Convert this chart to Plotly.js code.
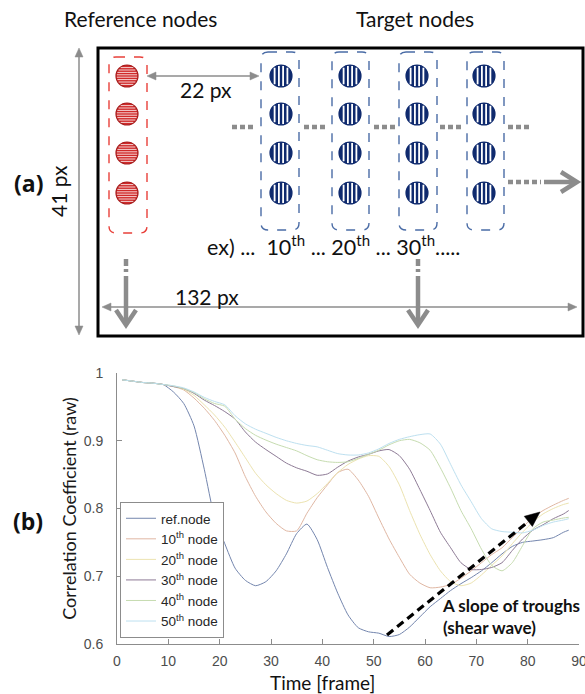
<!DOCTYPE html>
<html><head><meta charset="utf-8">
<script src="https://cdn.plot.ly/plotly-3.0.1.min.js"></script>
<style>html,body{margin:0;padding:0;background:#fff;overflow:hidden}#chart{width:585px;height:694px}</style>
</head><body><div id="chart"></div>
<script>
// ---------------- data ----------------
const frames = [1,3,5,7,9,11,13,15,17,19,21,23,25,27,29,31,33,35,37,39,41,43,45,47,49,51,53,55,57,59,61,63,65,67,69,71,73,75,77,79,81,83,85,87,88];
const refNode = [.990,.988,.986,.985,.983,.972,.955,.922,.858,.787,.748,.712,.694,.686,.692,.708,.733,.763,.777,.754,.713,.675,.643,.624,.618,.616,.611,.614,.625,.640,.655,.667,.679,.689,.698,.708,.720,.733,.744,.750,.752,.754,.757,.765,.768];
const node10 = [.990,.988,.986,.985,.983,.980,.975,.963,.948,.930,.908,.882,.847,.818,.795,.778,.767,.767,.793,.816,.835,.853,.858,.842,.818,.786,.755,.728,.703,.690,.683,.684,.688,.697,.708,.720,.732,.742,.757,.772,.787,.797,.805,.812,.815];
const node20 = [.990,.988,.986,.985,.983,.980,.976,.967,.953,.938,.920,.898,.875,.852,.835,.822,.812,.808,.811,.822,.837,.853,.865,.873,.878,.877,.862,.835,.797,.762,.732,.708,.692,.686,.690,.702,.716,.730,.748,.765,.780,.792,.800,.806,.808];
const node30 = [.990,.988,.986,.985,.983,.980,.977,.970,.960,.952,.943,.932,.913,.898,.887,.877,.867,.860,.855,.849,.851,.861,.870,.876,.880,.885,.887,.878,.858,.828,.797,.765,.742,.720,.710,.710,.713,.720,.738,.755,.768,.776,.785,.792,.797];
const node40 = [.990,.988,.986,.985,.983,.981,.977,.971,.962,.955,.951,.932,.918,.908,.901,.895,.890,.885,.878,.872,.869,.868,.869,.874,.880,.886,.894,.900,.902,.897,.886,.860,.830,.797,.770,.740,.716,.708,.720,.745,.770,.780,.783,.786,.787];
const node50 = [.990,.988,.986,.985,.983,.981,.978,.972,.964,.958,.953,.937,.925,.917,.911,.905,.900,.896,.893,.891,.886,.881,.879,.879,.882,.888,.896,.902,.906,.909,.910,.895,.865,.835,.810,.785,.770,.766,.765,.764,.768,.775,.780,.783,.785];
const seriesNames = ['ref.node','10<sup>th</sup> node','20<sup>th</sup> node','30<sup>th</sup> node','40<sup>th</sup> node','50<sup>th</sup> node'];
const seriesValues = [refNode,node10,node20,node30,node40,node50];
const seriesColors = ['#7486ae','#e0b7a3','#ece3b0','#8d7a95','#c6dcb0','#bde0f0'];
const xTicks = [0,10,20,30,40,50,60,70,80,90];
const yTicks = [0.6,0.7,0.8,0.9,1];
const yTickLabels = ['0.6','0.7','0.8','0.9','1'];

// ---------------- layout helpers (pixel -> paper) ----------------
const L=117,R=579,T=373,B=644;
const X = p => (p-L)/(R-L);
const Y = p => (B-p)/(B-T);
const pt = (x,y) => X(x)+','+Y(y);
const GRAY='#8c8c8c', NAVY='#0f2a6e', RED='#d02a2a';
const TXT='Lato, "Open Sans", sans-serif';
const shapes=[];
const ann=[];
function line(x0,y0,x1,y1,color,width,dash){
  shapes.push({type:'line',xref:'paper',yref:'paper',x0:X(x0),y0:Y(y0),x1:X(x1),y1:Y(y1),line:{color:color,width:width,dash:dash||'solid'}});
}
function path(d,color,width,fill,dash){
  shapes.push({type:'path',xref:'paper',yref:'paper',path:d,line:{color:color,width:width,dash:dash||'solid'},fillcolor:fill||'rgba(0,0,0,0)'});
}
function rrect(x0,y0,x1,y1,r){
  return 'M'+pt(x0+r,y0)+' L'+pt(x1-r,y0)+' Q'+pt(x1,y0)+' '+pt(x1,y0+r)+
    ' L'+pt(x1,y1-r)+' Q'+pt(x1,y1)+' '+pt(x1-r,y1)+
    ' L'+pt(x0+r,y1)+' Q'+pt(x0,y1)+' '+pt(x0,y1-r)+
    ' L'+pt(x0,y0+r)+' Q'+pt(x0,y0)+' '+pt(x0+r,y0)+' Z';
}
function tri(tx,ty,dx,dy,len,hw,color){
  const n=Math.hypot(dx,dy); dx/=n; dy/=n;
  const bx=tx-dx*len, by=ty-dy*len, px=-dy, py=dx;
  path('M'+pt(tx,ty)+' L'+pt(bx+px*hw,by+py*hw)+' L'+pt(bx-px*hw,by-py*hw)+' Z',color,0.5,color);
}
function circleStriped(cx,cy,r,fill,edge,vertical,offs,sw){
  shapes.push({type:'circle',xref:'paper',yref:'paper',x0:X(cx-r),x1:X(cx+r),y0:Y(cy+r),y1:Y(cy-r),fillcolor:fill,line:{color:edge,width:1.2}});
  let d='';
  offs.forEach(o=>{
    const h=Math.sqrt(Math.max(r*r-o*o,0))-0.8;
    if(vertical) d+='M'+pt(cx+o,cy-h)+' L'+pt(cx+o,cy+h)+' ';
    else d+='M'+pt(cx-h,cy+o)+' L'+pt(cx+h,cy+o)+' ';
  });
  path(d.trim(),'#ffffff',sw);
}
function text(x,y,t,size,opts){
  opts=opts||{};
  ann.push(Object.assign({xref:'paper',yref:'paper',x:X(x),y:Y(y),text:t,showarrow:false,
    xanchor:'center',yanchor:'middle',font:{family:TXT,size:size,color:'#111111'}},opts));
}

// ---------------- panel (a) diagram ----------------
shapes.push({type:'rect',xref:'paper',yref:'paper',x0:X(98),x1:X(583),y0:Y(48),y1:Y(336),line:{color:'#000',width:3}});
path(rrect(109,57,147,233,7),'#e8403a',1.4,null,'dash');
const rowY=[76,114,153,193];
rowY.forEach(cy=>circleStriped(127,cy,11,RED,'#a81c1c',false,[-8.4,-6,-3.6,-1.2,1.2,3.6,6,8.4],0.8));
const colX=[[261,299,281],[332,369,350],[399,437,417],[467,504,484]];
colX.forEach(c=>{
  path(rrect(c[0],52,c[1],230,7),'#4a6ca6',1.4,null,'dash');
  rowY.forEach(cy=>circleStriped(c[2],cy,11,NAVY,NAVY,true,[-6.4,-2.1,2.1,6.4],1.8));
});
[[232,253],[304,327],[374,397],[440,462],[508,530]].forEach(s=>line(s[0],127,s[1],127,GRAY,4.5,'5px,3px'));
line(508,182,541,182,GRAY,4.5,'5px,3px');
line(544,182,574,182,GRAY,4.5);
path('M'+pt(561,172)+' L'+pt(577,182)+' L'+pt(561,192),GRAY,4.5);
[126,418].forEach(x=>{
  line(x,259,x,266,GRAY,4.5);
  line(x,269,x,272,GRAY,4.5);
  line(x,276,x,322,GRAY,4.5);
  path('M'+pt(x-10,310)+' L'+pt(x,325)+' L'+pt(x+10,310),GRAY,4.5);
});
line(79,55,79,328,GRAY,1.5); tri(79,48,0,-1,9,4,GRAY); tri(79,335,0,1,9,4,GRAY);
line(154,76,252,76,GRAY,1.5); tri(147,76,-1,0,9,4,GRAY); tri(259,76,1,0,9,4,GRAY);
line(109,307,570,307,GRAY,1.5); tri(102,307,-1,0,9,4,GRAY); tri(577,307,1,0,9,4,GRAY);
text(140,18,'Reference nodes',21);
text(415,18,'Target nodes',21);
text(206,89,'22 px',21);
text(207,296,'132 px',21);
text(58,191,'41 px',21,{textangle:-90});
text(205,245,'ex) ...  10<sup>th</sup> ... 20<sup>th</sup> ... 30<sup>th</sup>.....',21.5,{xanchor:'left'});
const BOLD={family:'"Open Sans", sans-serif',size:23,color:'#111111',weight:'bold'};
text(28,183,'<b>(a)</b>',23,{font:BOLD});
text(28,521,'<b>(b)</b>',23,{font:BOLD});

// ---------------- panel (b) annotations ----------------
line(387,635,528,522,'#000',3.2,'8px,5px');
tri(540,512,152,-122,15,6.5,'#000');
text(440,616,'<b>A slope of troughs<br>(shear wave)</b>',17,{xanchor:'left',align:'left'});
text(322,682,'Time [frame]',19);

// ---------------- traces ----------------
const traces = seriesValues.map((v,i)=>({
  type:'scatter',mode:'lines',x:frames,y:v,name:seriesNames[i],
  line:{color:seriesColors[i],width:1,shape:'spline',smoothing:0.6}
}));

const axisFont={family:'Liberation Sans, Arial, sans-serif',size:14,color:'#4d4d4d'};
const layout={
  width:585,height:694,
  margin:{l:L,r:585-R,t:T,b:694-B,pad:0},
  paper_bgcolor:'#fff',plot_bgcolor:'#fff',
  showlegend:true,
  legend:{x:X(120),y:Y(502),xanchor:'left',yanchor:'top',bgcolor:'#fff',bordercolor:'#8c8c8c',borderwidth:1,
    font:{family:'Liberation Sans, Arial, sans-serif',size:13.5,color:'#262626'},tracegroupgap:0},
  xaxis:{range:[0,90],tickvals:xTicks,ticks:'inside',ticklen:5,tickcolor:'#8c8c8c',showline:true,linecolor:'#8c8c8c',linewidth:1,
    showgrid:false,zeroline:false,tickfont:axisFont,ticklabelstandoff:4,ticklabeloverflow:'allow',fixedrange:true},
  yaxis:{range:[0.6,1],tickvals:yTicks,ticktext:yTickLabels,ticks:'inside',ticklen:5,tickcolor:'#8c8c8c',showline:true,linecolor:'#8c8c8c',linewidth:1,
    showgrid:false,zeroline:false,tickfont:axisFont,ticklabelstandoff:10,fixedrange:true,
    title:{text:'Correlation Coefficient (raw)',font:{family:TXT,size:18,color:'#1a1a1a'},standoff:2}},
  shapes:shapes,
  annotations:ann
};
Plotly.newPlot('chart',traces,layout,{displayModeBar:false,staticPlot:true});
</script>
</body></html>
